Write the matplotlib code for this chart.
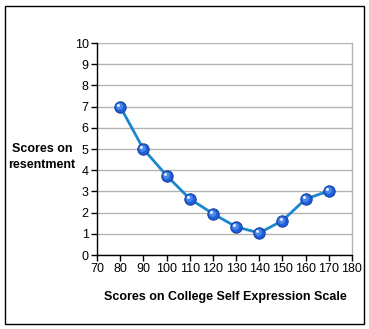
import matplotlib
matplotlib.use("Agg")
import matplotlib.pyplot as plt
from matplotlib.patches import Rectangle
from matplotlib.transforms import ScaledTranslation

plt.rcParams['font.family'] = ['Liberation Sans', 'DejaVu Sans']

# Data
expression_scores = [80, 90, 100, 110, 120, 130, 140, 150, 160, 170]
resentment_scores = [7.0, 5.0, 3.75, 2.65, 1.95, 1.33, 1.04, 1.62, 2.64, 3.02]
x_ticks = [70, 80, 90, 100, 110, 120, 130, 140, 150, 160, 170, 180]
y_ticks = [0, 1, 2, 3, 4, 5, 6, 7, 8, 9, 10]

W, H = 369, 329
fig = plt.figure(figsize=(W / 100, H / 100), dpi=100)
fig.patch.set_facecolor('white')

# Outer frame around the whole chart
fig.patches.append(Rectangle((4.5 / W, 1 - 323.5 / H), 359 / W, 318 / H,
                             transform=fig.transFigure, fill=False,
                             edgecolor='black', linewidth=1.0))

ax = fig.add_axes([97 / W, 1 - 255 / H, 255 / W, 212 / H])
ax.set_xlim(70, 180)
ax.set_ylim(0, 10)
ax.set_xticks(x_ticks)
ax.set_yticks(y_ticks)
ax.tick_params(axis='both', direction='out', length=4, width=1, labelsize=9,
               color='black', pad=2)
ax.grid(axis='y', color='#b3b3b3', linewidth=1.0)
ax.set_axisbelow(True)

for side in ('left', 'bottom'):
    ax.spines[side].set_color('black')
    ax.spines[side].set_linewidth(1.0)
ax.spines['top'].set_visible(False)
ax.spines['right'].set_color('#b3b3b3')
ax.spines['right'].set_linewidth(1.0)

# Line and spherical markers
ax.plot(expression_scores, resentment_scores, color='#1a86cc', linewidth=2.0,
        zorder=3, solid_capstyle='round')
ax.plot(expression_scores, resentment_scores, linestyle='none', marker='o',
        markersize=8.2, markerfacecolor='#1f5ed8', markeredgecolor='#123f9a',
        markeredgewidth=0.7, zorder=4)
ax.plot(expression_scores, resentment_scores, linestyle='none', marker='o',
        markersize=5.0, markerfacecolor='#4a88ee', markeredgewidth=0,
        zorder=5, transform=ax.transData + ScaledTranslation(-0.7 / 72, 0.7 / 72, fig.dpi_scale_trans))
ax.plot(expression_scores, resentment_scores, linestyle='none', marker='o',
        markersize=2.0, markerfacecolor='white', markeredgewidth=0,
        zorder=6, transform=ax.transData + ScaledTranslation(-1.4 / 72, 1.4 / 72, fig.dpi_scale_trans))

fig.text(42 / W, 1 - 157 / H, 'Scores on\nresentment', ha='center', va='center',
         fontsize=9, fontweight='bold', linespacing=1.35)
fig.text(225 / W, 1 - 297 / H, 'Scores on College Self Expression Scale',
         ha='center', va='center', fontsize=9, fontweight='bold')

fig.savefig('out.png', dpi=100)
